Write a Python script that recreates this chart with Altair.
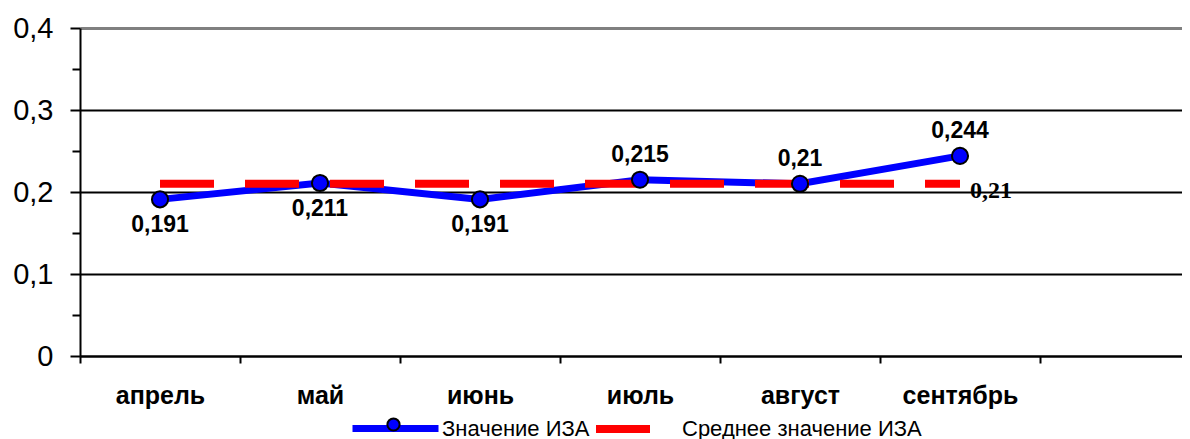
import altair as alt
import pandas as pd

months = ["апрель", "май", "июнь", "июль", "август", "сентябрь"]
values = [0.191, 0.211, 0.191, 0.215, 0.21, 0.244]
value_labels = ["0,191", "0,211", "0,191", "0,215", "0,21", "0,244"]
label_side = ["below", "below", "below", "above", "above", "above"]
mean_values = [0.21, 0.21, 0.21, 0.21, 0.21, 0.21]
mean_label = "0,21"
series_names = ["Значение ИЗА", "Среднее значение ИЗА"]
y_ticks = [0, 0.05, 0.1, 0.15, 0.2, 0.25, 0.3, 0.35, 0.4]

FONT = "Arial, Liberation Sans, sans-serif"
SERIF = "Liberation Serif, Times New Roman, serif"

df = pd.DataFrame({"month": months, "value": values, "label": value_labels,
                   "side": label_side, "series": series_names[0]})
mdf = pd.DataFrame({"month": months, "value": mean_values,
                    "label": mean_label, "series": series_names[1]})

x_domain = months + [" "]
minor_test = "round(datum.value*20) % 2 == 1"

x_enc = alt.X(
    "month:N", sort=None, bandPosition=0.5, title=None,
    scale=alt.Scale(type="band", domain=x_domain, range=[0, 1120],
                    paddingInner=0, paddingOuter=0),
    axis=alt.Axis(tickBand="extent", tickSize=7, tickWidth=2, tickColor="black",
                  domainColor="black", domainWidth=2, labelFont=FONT,
                  labelFontSize=25, labelFontWeight="bold", labelColor="black",
                  labelPadding=40, labelBaseline="alphabetic", labelAngle=0,
                  grid=False),
)
y_enc = alt.Y(
    "value:Q", title=None,
    scale=alt.Scale(domain=[0, 0.4], nice=False, zero=True),
    axis=alt.Axis(
        values=y_ticks,
        labelExpr="round(datum.value*20) % 2 == 1 ? '' : replace(format(datum.value, '.1~f'), '.', ',')",
        labelFont=FONT, labelFontSize=29, labelColor="black", labelPadding=17,
        labelBaseline="middle",
        tickSize={"condition": {"test": minor_test, "value": 8}, "value": 10},
        tickWidth=2, tickColor="black", domainColor="black", domainWidth=2,
        grid=True,
        gridColor={"condition": {"test": "datum.value == 0.4", "value": "#808080"}, "value": "black"},
        gridWidth={"condition": {"test": "datum.value == 0.4", "value": 3}, "value": 2},
        gridOpacity={"condition": {"test": minor_test, "value": 0}, "value": 1},
    ),
)

line = alt.Chart(df).mark_line(strokeWidth=7).encode(
    x=x_enc, y=y_enc,
    color=alt.Color("series:N", scale=alt.Scale(domain=[series_names[0]], range=["#0000FF"]),
                    legend=alt.Legend(orient="none", legendX=269, legendY=354, title=None,
                                      symbolType="stroke", symbolSize=86 * 86,
                                      symbolStrokeWidth=7, labelFont=FONT, labelFontSize=22,
                                      labelColor="black", labelOffset=0, labelLimit=400)),
)

mean_line = alt.Chart(mdf).mark_line(strokeWidth=8, strokeDash=[54, 31]).encode(
    x=x_enc, y=y_enc,
    color=alt.Color("series:N", scale=alt.Scale(domain=[series_names[1]], range=["#FF0000"]),
                    legend=alt.Legend(orient="none", legendX=512, legendY=370, title=None,
                                      symbolType="stroke", symbolSize=54 * 54,
                                      symbolStrokeWidth=8, labelFont=FONT, labelFontSize=22,
                                      labelColor="black", labelOffset=28, labelLimit=400)),
)

points = alt.Chart(df).mark_point(filled=True, shape="circle", size=260, stroke="black",
                                  strokeWidth=2, opacity=1).encode(
    x=x_enc, y=y_enc,
    fill=alt.Fill("series:N", scale=alt.Scale(domain=[series_names[0]], range=["#0000FF"]),
                  legend=alt.Legend(orient="none", legendX=303, legendY=386, title=None,
                                    symbolType="circle", symbolSize=150,
                                    symbolStrokeColor="black", symbolStrokeWidth=2,
                                    labelExpr="''", labelFontSize=21)),
)

labels_below = alt.Chart(df).transform_filter(alt.datum.side == "below").mark_text(
    font=FONT, fontSize=23, fontWeight="bold", color="black", baseline="alphabetic", dy=33
).encode(x=x_enc, y=y_enc, text="label:N")

labels_above = alt.Chart(df).transform_filter(alt.datum.side == "above").mark_text(
    font=FONT, fontSize=23, fontWeight="bold", color="black", baseline="alphabetic", dy=-18
).encode(x=x_enc, y=y_enc, text="label:N")

mean_text = alt.Chart(mdf).transform_filter(alt.datum.month == months[-1]).mark_text(
    font=SERIF, fontSize=24, fontWeight="bold", color="black", baseline="alphabetic",
    align="left", dx=10, dy=14
).encode(x=x_enc, y=y_enc, text="label:N")

chart = alt.layer(line, mean_line, points, labels_below, labels_above, mean_text).resolve_scale(
    color="independent", fill="independent"
).properties(
    width=1102, height=328,
    autosize=alt.AutoSizeParams(type="none"),
    padding={"left": 72, "top": 20, "right": 0, "bottom": 83},
    background="white",
).configure_view(stroke=None)

chart.save("out.html", embed_options={"renderer": "svg", "actions": False})
